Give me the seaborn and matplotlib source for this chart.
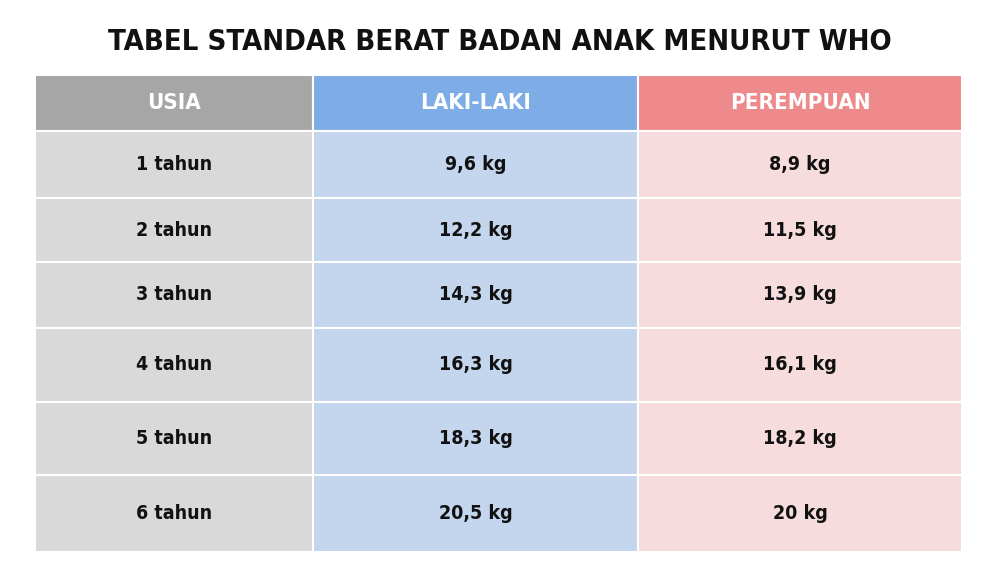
import matplotlib
matplotlib.use("Agg")
import matplotlib.pyplot as plt
import seaborn as sns
from matplotlib.patches import Rectangle

title = "TABEL STANDAR BERAT BADAN ANAK MENURUT WHO"
headers = ["USIA", "LAKI-LAKI", "PEREMPUAN"]
ages = ["1 tahun", "2 tahun", "3 tahun", "4 tahun", "5 tahun", "6 tahun"]
boys = ["9,6 kg", "12,2 kg", "14,3 kg", "16,3 kg", "18,3 kg", "20,5 kg"]
girls = ["8,9 kg", "11,5 kg", "13,9 kg", "16,1 kg", "18,2 kg", "20 kg"]

sns.set_theme(style="white")
fam = ["DejaVu Sans"]
plt.rcParams["font.family"] = fam

fig = plt.figure(figsize=(10, 5.63), dpi=100)
ax = fig.add_axes([0, 0, 1, 1])
ax.set_xlim(0, 1000)
ax.set_ylim(563, 0)
ax.axis("off")

col_edges = [35, 313, 638, 962]
row_edges = [75, 131, 198, 262, 328, 402, 475, 552]
head_colors = ["#a6a6a6", "#7dace6", "#ee8a8b"]
body_colors = ["#d9d9d9", "#c4d5ee", "#f6dcdc"]

ax.text(500, 42, title, ha="center", va="center", fontsize=21,
        fontweight="bold", fontstretch="condensed", color="#111111")

columns = [ages, boys, girls]
for c in range(3):
    x0, x1 = col_edges[c], col_edges[c + 1]
    for r in range(len(row_edges) - 1):
        y0, y1 = row_edges[r], row_edges[r + 1]
        color = head_colors[c] if r == 0 else body_colors[c]
        ax.add_patch(Rectangle((x0, y0), x1 - x0, y1 - y0, facecolor=color,
                               edgecolor="white", linewidth=1.5))
        if r == 0:
            ax.text((x0 + x1) / 2, (y0 + y1) / 2, headers[c], ha="center",
                    va="center", fontsize=16, fontweight="bold",
                    fontstretch="condensed", color="white")
        else:
            ax.text((x0 + x1) / 2, (y0 + y1) / 2, columns[c][r - 1],
                    ha="center", va="center", fontsize=14, fontweight="bold",
                    fontstretch="condensed", color="#111111")

fig.savefig("out.png", dpi=100, facecolor="white")
